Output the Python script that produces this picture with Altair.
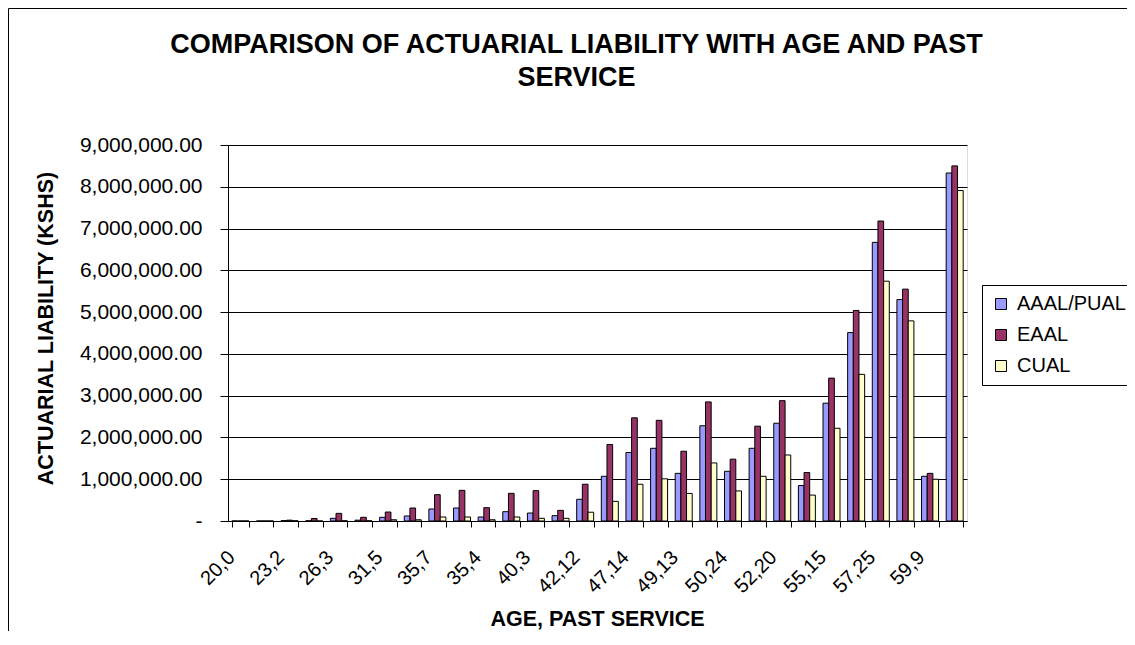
import json
import altair as alt
import pandas as pd

# x categories (age, past service); only every other label is printed in the reference
age_service_labels = ["20,0", "", "23,2", "", "26,3", "", "31,5", "", "35,7", "",
                      "35,4", "", "40,3", "", "42,12", "", "47,14", "", "49,13", "",
                      "50,24", "", "52,20", "", "55,15", "", "57,25", "", "59,9", ""]

series_names = ["AAAL/PUAL", "EAAL", "CUAL"]
series_colors = ["#9999FF", "#993366", "#FFFFCC"]

aaal_pual = [0, 0, 10000, 5000, 64000, 20000, 88000, 120000, 287000, 311000,
             96000, 223000, 191000, 128000, 520000, 1070000, 1640000, 1740000, 1140000, 2280000,
             1190000, 1740000, 2340000, 850000, 2820000, 4510000, 6670000, 5300000, 1070000, 8330000]
eaal = [0, 0, 20000, 60000, 183000, 88000, 215000, 311000, 630000, 734000,
        319000, 662000, 726000, 255000, 880000, 1830000, 2470000, 2410000, 1670000, 2850000,
        1480000, 2270000, 2880000, 1160000, 3420000, 5040000, 7180000, 5550000, 1140000, 8500000]
cual = [0, 0, 5000, 0, 5000, 5000, 30000, 30000, 96000, 96000,
        30000, 96000, 64000, 64000, 210000, 470000, 880000, 1010000, 660000, 1390000,
        720000, 1070000, 1580000, 620000, 2220000, 3510000, 5740000, 4790000, 1000000, 7910000]

y_ticks = [0, 1000000, 2000000, 3000000, 4000000, 5000000, 6000000, 7000000, 8000000, 9000000]

rows = []
for i in range(len(age_service_labels)):
    for name, vals in zip(series_names, [aaal_pual, eaal, cual]):
        rows.append({"i": i, "series": name, "value": vals[i]})
df = pd.DataFrame(rows)

FONT = "Liberation Sans"
W, H = 739, 376
PAD_L, PAD_T, PAD_R, PAD_B = 220, 137, 160, 110

x_label_expr = json.dumps(age_service_labels) + "[datum.value]"
y_label_expr = "datum.value == 0 ? '-\u00a0\u00a0\u00a0\u00a0' : format(datum.value, ',.2f')"

bars = alt.Chart(df).mark_bar(stroke="black", strokeWidth=1).encode(
    x=alt.X(
        "i:O",
        scale=alt.Scale(paddingInner=0.31, paddingOuter=0.155),
        axis=alt.Axis(
            title="AGE, PAST SERVICE",
            titleFont=FONT, titleFontSize=21.5, titleFontWeight="bold", titleColor="black",
            titleBaseline="alphabetic", titleY=104, titleX=369,
            labelExpr=x_label_expr, labelAngle=315, labelAlign="right", labelBaseline="middle",
            labelFont=FONT, labelFontSize=20, labelColor="black", labelPadding=27,
            labelOffset=-9, labelOverlap=False,
            tickBand="extent", tickSize=6, tickColor="black",
            domainColor="black", grid=False,
        ),
    ),
    xOffset=alt.XOffset("series:N", sort=series_names, scale=alt.Scale(paddingInner=0, paddingOuter=0)),
    y=alt.Y(
        "value:Q",
        scale=alt.Scale(domain=[0, 9000000], nice=False),
        axis=alt.Axis(
            title="ACTUARIAL LIABILITY (KSHS)",
            titleFont=FONT, titleFontSize=21.5, titleFontWeight="bold", titleColor="black",
            titleAngle=270, titleAlign="center", titleBaseline="alphabetic",
            titleX=-176, titleY=183,
            values=y_ticks, labelExpr=y_label_expr,
            labelFont=FONT, labelFontSize=21, labelColor="black", labelPadding=18,
            tickSize=8, tickColor="black", domainColor="black",
            grid=True, gridColor="black", gridWidth=1,
        ),
    ),
    color=alt.Color(
        "series:N",
        sort=series_names,
        scale=alt.Scale(domain=series_names, range=series_colors),
        legend=alt.Legend(
            title=None, orient="none", legendX=754, legendY=140,
            padding=9, rowPadding=11, strokeColor="black", fillColor="white",
            symbolType="square", symbolSize=121, symbolStrokeColor="black", symbolStrokeWidth=1,
            labelFont=FONT, labelFontSize=20, labelColor="black", labelOffset=6,
        ),
    ),
)

frame_df = pd.DataFrame({"a": [0]})
frame_left = alt.Chart(frame_df).mark_rule(color="black", strokeWidth=1).encode(
    x=alt.value(-PAD_L + 0.5), y=alt.value(-PAD_T + 0.5), y2=alt.value(H + PAD_B)
)
frame_top = alt.Chart(frame_df).mark_rule(color="black", strokeWidth=1).encode(
    x=alt.value(-PAD_L + 0.5), x2=alt.value(W + PAD_R), y=alt.value(-PAD_T + 0.5)
)

chart = alt.layer(bars, frame_left, frame_top).properties(
    width=W, height=H,
    autosize=alt.AutoSizeParams(type="none"),
    padding={"left": PAD_L, "top": PAD_T, "right": PAD_R, "bottom": PAD_B},
    title=alt.Title(
        ["COMPARISON OF ACTUARIAL LIABILITY WITH AGE AND PAST", "SERVICE"],
        font=FONT, fontSize=27, fontWeight="bold", color="black",
        anchor="middle", frame="group", dx=-21, offset=-84, lineHeight=33,
    ),
).configure_view(
    fill="#C0C0C0", stroke="#808080"
).configure(background="white")

chart.save("out.html", embed_options={"renderer": "svg", "actions": False})
